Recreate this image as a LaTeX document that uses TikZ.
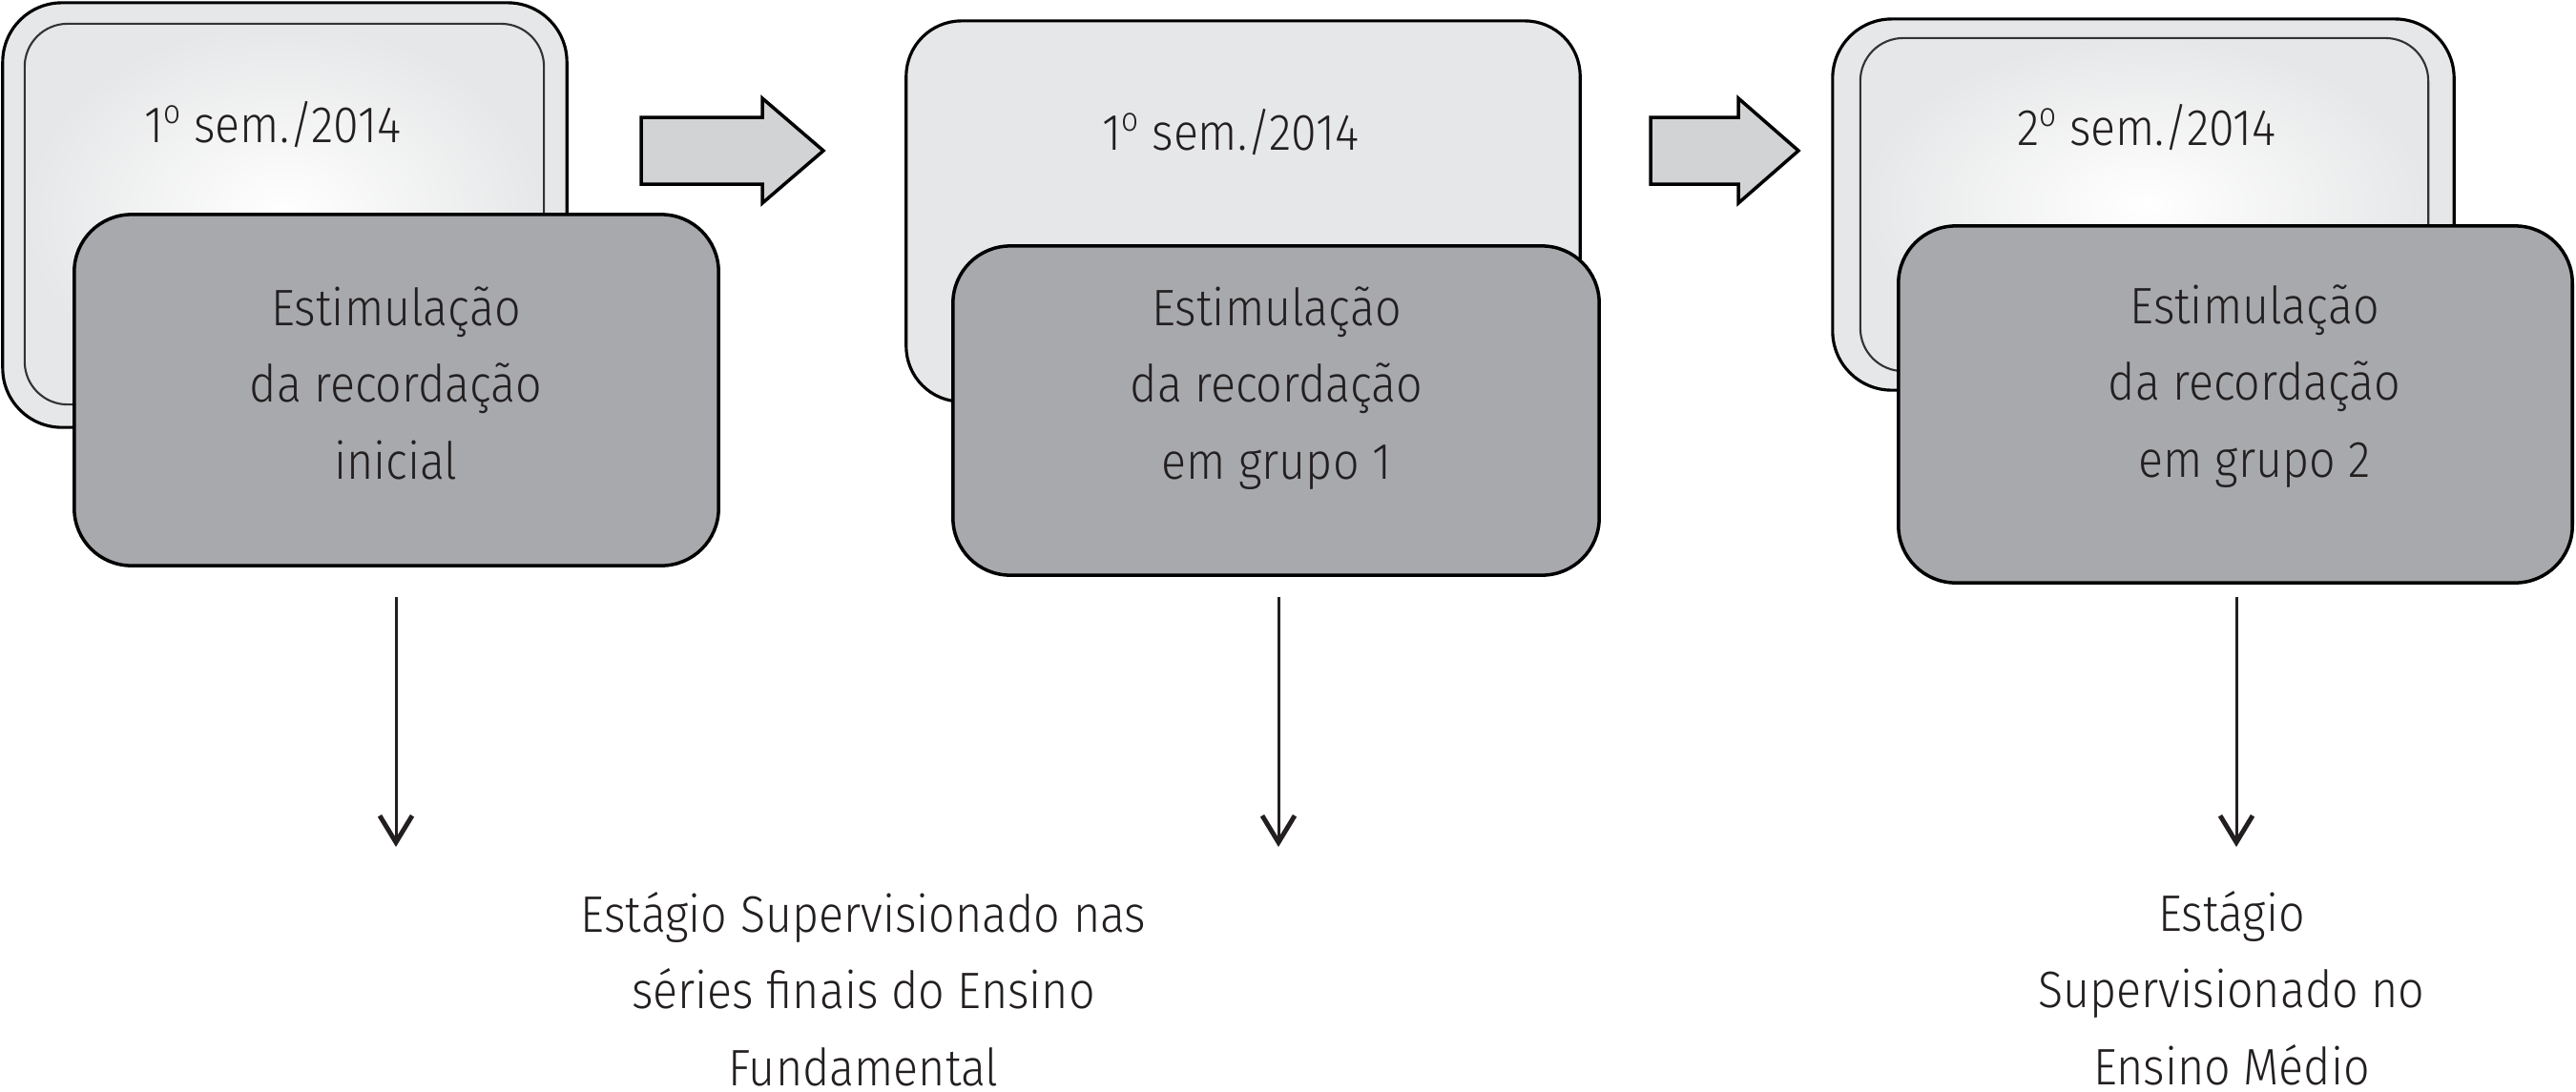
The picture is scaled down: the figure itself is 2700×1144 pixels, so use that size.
\documentclass[tikz,border=0pt]{standalone}
\usepackage{fontspec}
\IfFontExistsTF{Fira Sans Light}{\setmainfont{Fira Sans Light}[FakeStretch=0.9]}{\setmainfont{Fira Sans}[FakeStretch=0.9]}
\usetikzlibrary{arrows.meta}
\definecolor{lightbox}{HTML}{E6E7E8}
\definecolor{darkbox}{HTML}{A7A9AC}
\definecolor{arrowfill}{HTML}{D1D3D4}
\definecolor{ink}{HTML}{231F20}
\newcommand{\ordo}{\raisebox{0.36em}{\fontsize{10}{10}\selectfont o}}
\tikzset{
  frame/.style={draw=black, line width=0.9pt, fill=lightbox, rounded corners=0.62cm, inner sep=0pt},
  panel/.style={draw=black!80, line width=0.6pt, inner color=white, outer color=lightbox, rounded corners=0.45cm, inner sep=0pt},
  lightpanel/.style={draw=black, line width=0.9pt, fill=lightbox, rounded corners=0.58cm, inner sep=0pt},
  darkpanel/.style={draw=black, line width=1pt, fill=darkbox, rounded corners=0.6cm, inner sep=0pt},
  blockarrow/.style={draw=black, line width=1pt, fill=arrowfill, line join=miter},
  downarrow/.style={draw=ink, line width=0.85pt, -{Straight Barb[length=0.28cm,width=0.34cm,line width=1.4pt]}},
  txt/.style={font=\fontsize{15.3}{22.76}\selectfont, text=ink, align=center, inner sep=0pt, anchor=base}
}
\begin{document}
\begin{tikzpicture}[x=0.01cm, y=-0.01cm]
\useasboundingbox (0,0) rectangle (2700,1144);
% box 1
\node[frame, minimum width=5.91cm, minimum height=4.45cm] (f1) at (298.5,225.5) {};
\node[panel, minimum width=5.44cm, minimum height=3.99cm] (p1) at (298,224.5) {};
% box 2
\node[lightpanel, minimum width=7.06cm, minimum height=3.99cm] (p2) at (1303,221.5) {};
% box 3
\node[frame, minimum width=6.51cm, minimum height=3.89cm] (f3) at (2246.5,214.5) {};
\node[panel, minimum width=5.95cm, minimum height=3.49cm] (p3) at (2247.5,214.5) {};
% block arrows
\draw[blockarrow] (672,123) -- (799,123) -- (799,103) -- (863,158) -- (799,213) -- (799,193) -- (672,193) -- cycle;
\draw[blockarrow] (1730,123) -- (1822,123) -- (1822,103) -- (1885,158) -- (1822,213) -- (1822,193) -- (1730,193) -- cycle;
% dark boxes
\node[darkpanel, minimum width=6.75cm, minimum height=3.68cm] (d1) at (415.5,409) {};
\node[darkpanel, minimum width=6.77cm, minimum height=3.45cm] (d2) at (1337.5,430.5) {};
\node[darkpanel, minimum width=7.06cm, minimum height=3.74cm] (d3) at (2343,424) {};
% texts (anchor base = baseline of the last line)
\node[txt] (s1) at (286,149) {1\ordo\ sem./2014};
\node[txt] (s2) at (1290,157) {1\ordo\ sem./2014};
\node[txt] (s3) at (2250,152) {2\ordo\ sem./2014};
\node[txt] (e1) at (415,502) {Estimulação\\da recordação\\inicial};
\node[txt] (e2) at (1338,502) {Estimulação\\da recordação\\em grupo 1};
\node[txt] (e3) at (2363,500) {Estimulação\\da recordação\\em grupo 2};
\node[txt, text depth=0pt] (b1) at (905,1138) {Estágio Supervisionado nas\\séries finais do Ensino\\Fundamental};
\node[txt, text depth=0pt] (b2) at (2339,1137) {Estágio\\Supervisionado no\\Ensino Médio};
% down arrows
\coordinate (a1s) at (415,626); \coordinate (a1e) at (415,888);
\coordinate (a2s) at (1340,626); \coordinate (a2e) at (1340,888);
\coordinate (a3s) at (2344,626); \coordinate (a3e) at (2344,888);
\draw[downarrow] (a1s) -- (a1e);
\draw[downarrow] (a2s) -- (a2e);
\draw[downarrow] (a3s) -- (a3e);
\end{tikzpicture}
\end{document}
